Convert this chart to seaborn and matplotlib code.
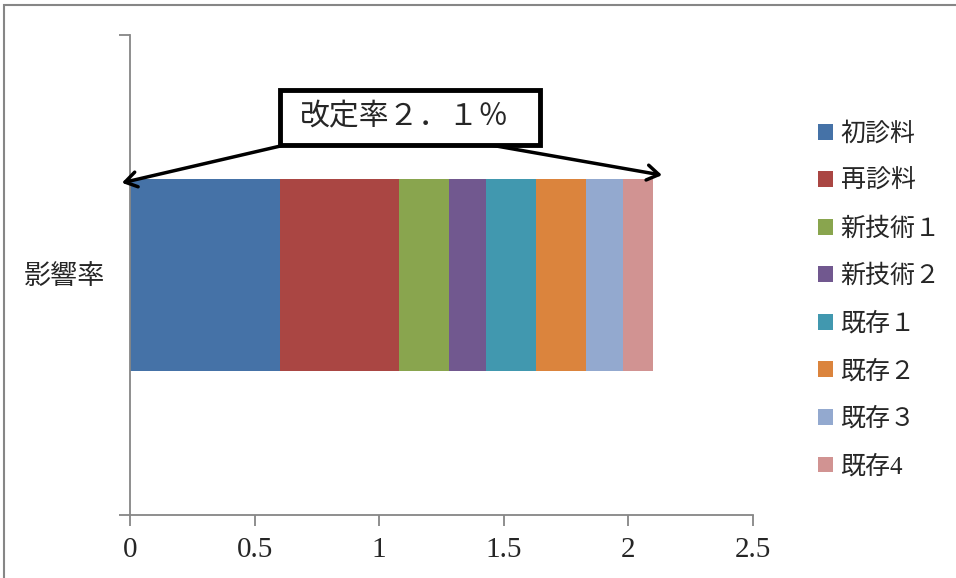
import matplotlib
matplotlib.use("Agg")
import matplotlib.pyplot as plt
from matplotlib.patches import Rectangle, Patch
import seaborn as sns
import numpy as np
import pandas as pd

# Data: contribution of each item to the overall revision rate (%)
items = ["初診料", "再診料", "新技術１", "新技術２", "既存１", "既存２", "既存３", "既存4"]
values = [0.60, 0.48, 0.20, 0.15, 0.20, 0.20, 0.15, 0.12]
colors = ["#4572A7", "#AA4643", "#89A54E", "#71588F", "#4198AF", "#DB843D", "#93A9CF", "#D19392"]
category = "影響率"
total_label = "改定率２．１％"
x_ticks = [0, 0.5, 1, 1.5, 2, 2.5]

sns.set_theme(style="white")
plt.rcParams["font.family"] = ["Liberation Serif", "Noto Sans CJK JP", "DejaVu Sans"]

fig = plt.figure(figsize=(9.56, 5.78), dpi=100)
ax = fig.add_axes([130 / 956, 1 - 515 / 578, 623 / 956, 480 / 578])

# Stacked bar: draw cumulative totals from longest to shortest so each
# visible band is one item's share.
cum = np.cumsum(values)
for i in range(len(items) - 1, -1, -1):
    df = pd.DataFrame({"value": [cum[i]], "cat": [category]})
    sns.barplot(data=df, x="value", y="cat", orient="h", color=colors[i],
                width=0.4, saturation=1, linewidth=0, ax=ax)

ax.set_xlim(0, 2.5)
ax.set_ylim(0.5, -0.5)
ax.set_xlabel("")
ax.set_ylabel("")
ax.set_xticks(x_ticks)
ax.set_xticklabels([f"{t:g}" for t in x_ticks], fontsize=21)
ax.set_yticks([0])
ax.set_yticklabels([category], fontsize=19.5)
ax.set_yticks([-0.5, 0.5], minor=True)

axis_gray = "#868686"
for side in ["top", "right"]:
    ax.spines[side].set_visible(False)
for side in ["left", "bottom"]:
    ax.spines[side].set_color(axis_gray)
    ax.spines[side].set_linewidth(1.3)
ax.tick_params(axis="x", which="major", direction="out", length=8, width=1.3,
               color=axis_gray, pad=8, bottom=True)
ax.tick_params(axis="y", which="major", length=0, pad=18)
ax.tick_params(axis="y", which="minor", direction="out", length=8, width=1.3,
               color=axis_gray, left=True)

# Total label in a framed box, with arrows spanning the whole bar
ax.add_patch(Rectangle((0.2408, 0.7708), 0.4173, 0.1146, transform=ax.transAxes,
                       facecolor="white", edgecolor="black", linewidth=3.5,
                       zorder=5, clip_on=False))
ax.text(0.273, 0.828, total_label, transform=ax.transAxes, fontsize=21.5,
        ha="left", va="center", zorder=6)
arrow_kw = dict(arrowstyle="->,head_length=0.7,head_width=0.45",
                color="black", linewidth=2.5, shrinkA=0, shrinkB=0)
ax.annotate("", xy=(-0.013, 0.692), xytext=(0.249, 0.771),
            xycoords="axes fraction", textcoords="axes fraction",
            arrowprops=arrow_kw, annotation_clip=False, zorder=4)
ax.annotate("", xy=(0.854, 0.708), xytext=(0.578, 0.771),
            xycoords="axes fraction", textcoords="axes fraction",
            arrowprops=arrow_kw, annotation_clip=False, zorder=4)

# Legend on the right
handles = [Patch(facecolor=c, edgecolor="none") for c in colors]
fig.legend(handles, items, loc="upper left", bbox_to_anchor=(808 / 956, 1 - 112 / 578),
           frameon=False, fontsize=18, handlelength=0.6, handleheight=0.6,
           handletextpad=0.3, labelspacing=0.96, borderaxespad=0)

# Chart area border
fig.patches.append(Rectangle((4 / 956, -0.1), 1.1, 1 - 5 / 578 + 0.1,
                             transform=fig.transFigure, fill=False,
                             edgecolor=axis_gray, linewidth=1.5))

fig.savefig("out.png", dpi=100)
